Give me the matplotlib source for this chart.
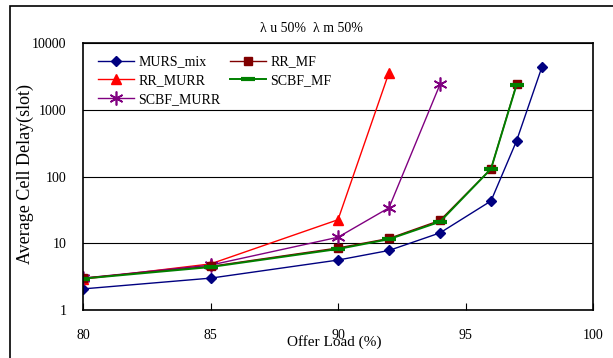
import matplotlib
matplotlib.use('Agg')
import matplotlib.pyplot as plt
from matplotlib.patches import Rectangle

plt.rcParams['font.family'] = ['Liberation Serif', 'DejaVu Serif']

# offered load (%) and average cell delay (slot) per scheduler
load_murs = [80, 85, 90, 92, 94, 96, 97, 98]
murs_mix = [2.07, 3.0, 5.6, 7.8, 14.3, 43, 340, 4400]

load_mf = [80, 85, 90, 92, 94, 96, 97]
rr_mf = [3.0, 4.5, 8.5, 11.8, 22, 130, 2400]
scbf_mf = [2.95, 4.4, 8.2, 11.5, 21, 130, 2350]

load_rr_murr = [80, 85, 90, 92]
rr_murr = [2.9, 4.9, 22.5, 3600]

load_scbf_murr = [80, 85, 90, 92, 94]
scbf_murr = [3.0, 4.7, 12.3, 34, 2400]

x_ticks = [80, 85, 90, 95, 100]
y_ticks = [1, 10, 100, 1000, 10000]

fig = plt.figure(figsize=(6.13, 3.58), dpi=100)
ax = fig.add_axes([83 / 613, 1 - 310 / 358, 510 / 613, 267 / 358])

# outer chart border
fig.patches.append(Rectangle((10 / 613, -0.1), 1.2, 1 - 6 / 358 + 0.1,
                             transform=fig.transFigure, fill=False,
                             edgecolor='black', linewidth=1.2))

ax.plot(load_murs, murs_mix, color='#000080', marker='D', markersize=5,
        linewidth=1, label='MURS_mix')
ax.plot(load_rr_murr, rr_murr, color='#ff0000', marker='^', markersize=6.5,
        linewidth=1, label='RR_MURR')
ax.plot(load_scbf_murr, scbf_murr, color='#800080', marker=(6, 2, 0), markersize=10,
        markeredgewidth=1.2, linewidth=1, label='SCBF_MURR')
ax.plot(load_mf, rr_mf, color='#800000', marker='s', markersize=6,
        linewidth=1, label='RR_MF')
ax.plot(load_mf, scbf_mf, color='#008000', marker='_', markersize=10,
        markeredgewidth=3, linewidth=1.4, label='SCBF_MF')

ax.set_yscale('log')
ax.set_xlim(80, 100)
ax.set_ylim(1, 10000)
ax.set_xticks(x_ticks)
ax.set_yticks(y_ticks)
ax.set_yticklabels([str(v) for v in y_ticks])
ax.minorticks_off()
ax.tick_params(axis='x', direction='in', length=5, pad=14, labelsize=10)
ax.tick_params(axis='y', length=0, pad=12, labelsize=10)
ax.yaxis.grid(True, color='black', linewidth=0.8)
for s in ax.spines.values():
    s.set_linewidth(1.2)

fig.text(311 / 613, 1 - 28 / 358, 'λ u 50%  λ m 50%', ha='center', va='center', fontsize=10)
fig.text(334 / 613, 1 - 342 / 358, 'Offer Load (%)', ha='center', va='center', fontsize=11)
fig.text(25 / 613, 1 - 174 / 358, 'Average Cell Delay(slot)',
         rotation=90, ha='center', va='center', fontsize=13)

ax.legend(loc='upper left', ncol=2, frameon=False, fontsize=10,
          handlelength=2.6, handletextpad=0.3, columnspacing=0.7,
          labelspacing=0.42, borderaxespad=0.3, bbox_to_anchor=(0.01, 0.99))

fig.savefig('out.png', dpi=100)
